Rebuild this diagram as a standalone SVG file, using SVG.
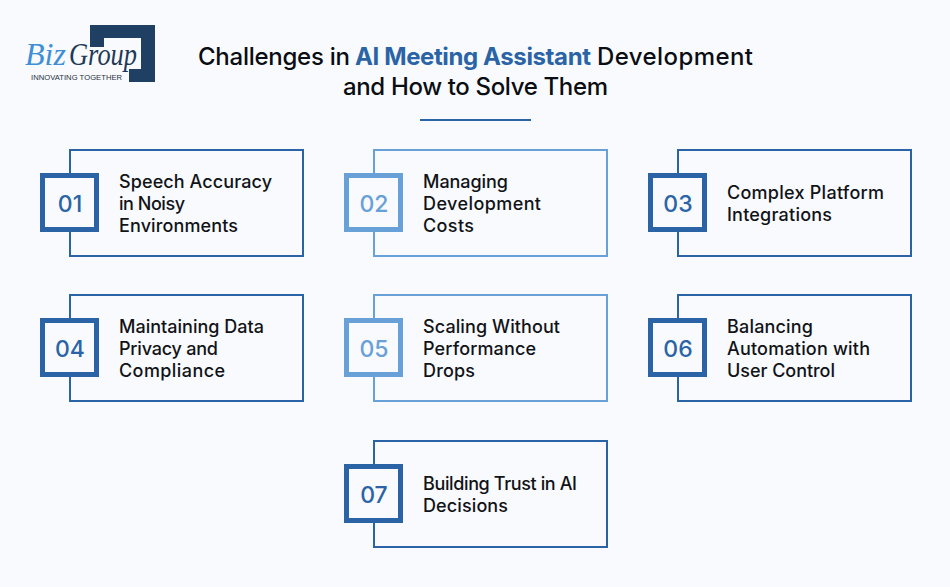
<svg xmlns="http://www.w3.org/2000/svg" width="950" height="587" viewBox="0 0 950 587">
<style>
.t{font-family:Inter,"Noto Sans","Liberation Sans",sans-serif;font-size:18px;font-weight:500;fill:#111317}
.h{font-family:Inter,"Noto Sans","Liberation Sans",sans-serif;font-size:24px;font-weight:500;fill:#0a0d12}
.n{font-family:Inter,"Noto Sans","Liberation Sans",sans-serif;font-size:23px;font-weight:500;text-anchor:middle}
.card{fill:#f8fafd;stroke-width:2}
.badge{fill:#f8fafd;stroke-width:5}
.d .card,.d .badge{stroke:#2b64a6}.d .n{fill:#2b64a6}
.l .card,.l .badge{stroke:#68a0d8}.l .n{fill:#68a0d8}
</style>
<rect width="950" height="587" fill="#f8fafd"/>
<g id="logo">
<path d="M90 25H155V82H129V69H141V38H104V47H90Z" fill="#1f3f63"/>
<text x="25" y="65" font-family="'Liberation Serif',serif" font-style="italic" font-size="32" fill="#3f8fd6" textLength="41" lengthAdjust="spacingAndGlyphs">Biz</text>
<text x="69" y="65" font-family="'Liberation Serif',serif" font-style="italic" font-size="32" fill="#1f3a58" textLength="68" lengthAdjust="spacingAndGlyphs">Group</text>
<text x="31" y="80" font-family="'Liberation Sans',sans-serif" font-size="7.600" fill="#26303c" textLength="91">INNOVATING TOGETHER</text>
</g>
<g id="title">
<text class="h" x="198" y="65" textLength="152">Challenges in</text>
<text class="h" x="355" y="65" textLength="236" style="fill:#2b64a6;font-weight:700">AI Meeting Assistant</text>
<text class="h" x="597" y="65" textLength="156">Development</text>
<text class="h" x="343" y="95" textLength="265">and How to Solve Them</text>
<rect x="420" y="119" width="111" height="2" fill="#2b64a6"/>
</g>
<g id="connectors"/>
<g id="node-01" class="d"><rect class="card" x="70" y="150" width="233" height="106"/><rect class="badge" x="42.500" y="175.500" width="54" height="54"/><text class="n" x="70" y="212">01</text><text class="t" x="119" y="188" textLength="153">Speech Accuracy</text><text class="t" x="119" y="210" textLength="66">in Noisy</text><text class="t" x="119" y="232" textLength="119">Environments</text></g>
<g id="node-02" class="l"><rect class="card" x="374" y="150" width="233" height="106"/><rect class="badge" x="346.500" y="175.500" width="54" height="54"/><text class="n" x="374" y="212">02</text><text class="t" x="423" y="188" textLength="85">Managing</text><text class="t" x="423" y="210" textLength="118">Development</text><text class="t" x="423" y="232" textLength="51">Costs</text></g>
<g id="node-03" class="d"><rect class="card" x="678" y="150" width="233" height="106"/><rect class="badge" x="650.500" y="175.500" width="54" height="54"/><text class="n" x="678" y="212">03</text><text class="t" x="727" y="199" textLength="157">Complex Platform</text><text class="t" x="727" y="221" textLength="105">Integrations</text></g>
<g id="node-04" class="d"><rect class="card" x="70" y="295" width="233" height="106"/><rect class="badge" x="42.500" y="320.500" width="54" height="54"/><text class="n" x="70" y="357">04</text><text class="t" x="119" y="333" textLength="145">Maintaining Data</text><text class="t" x="119" y="355" textLength="99">Privacy and</text><text class="t" x="119" y="377" textLength="106">Compliance</text></g>
<g id="node-05" class="l"><rect class="card" x="374" y="295" width="233" height="106"/><rect class="badge" x="346.500" y="320.500" width="54" height="54"/><text class="n" x="374" y="357">05</text><text class="t" x="423" y="333" textLength="137">Scaling Without</text><text class="t" x="423" y="355" textLength="113">Performance</text><text class="t" x="423" y="377" textLength="52">Drops</text></g>
<g id="node-06" class="d"><rect class="card" x="678" y="295" width="233" height="106"/><rect class="badge" x="650.500" y="320.500" width="54" height="54"/><text class="n" x="678" y="357">06</text><text class="t" x="727" y="333" textLength="86">Balancing</text><text class="t" x="727" y="355" textLength="143">Automation with</text><text class="t" x="727" y="377" textLength="108">User Control</text></g>
<g id="node-07" class="d"><rect class="card" x="374" y="441" width="233" height="106"/><rect class="badge" x="346.500" y="466.500" width="54" height="54"/><text class="n" x="374" y="503">07</text><text class="t" x="423" y="490" textLength="154">Building Trust in AI</text><text class="t" x="423" y="512" textLength="85">Decisions</text></g>
</svg>
